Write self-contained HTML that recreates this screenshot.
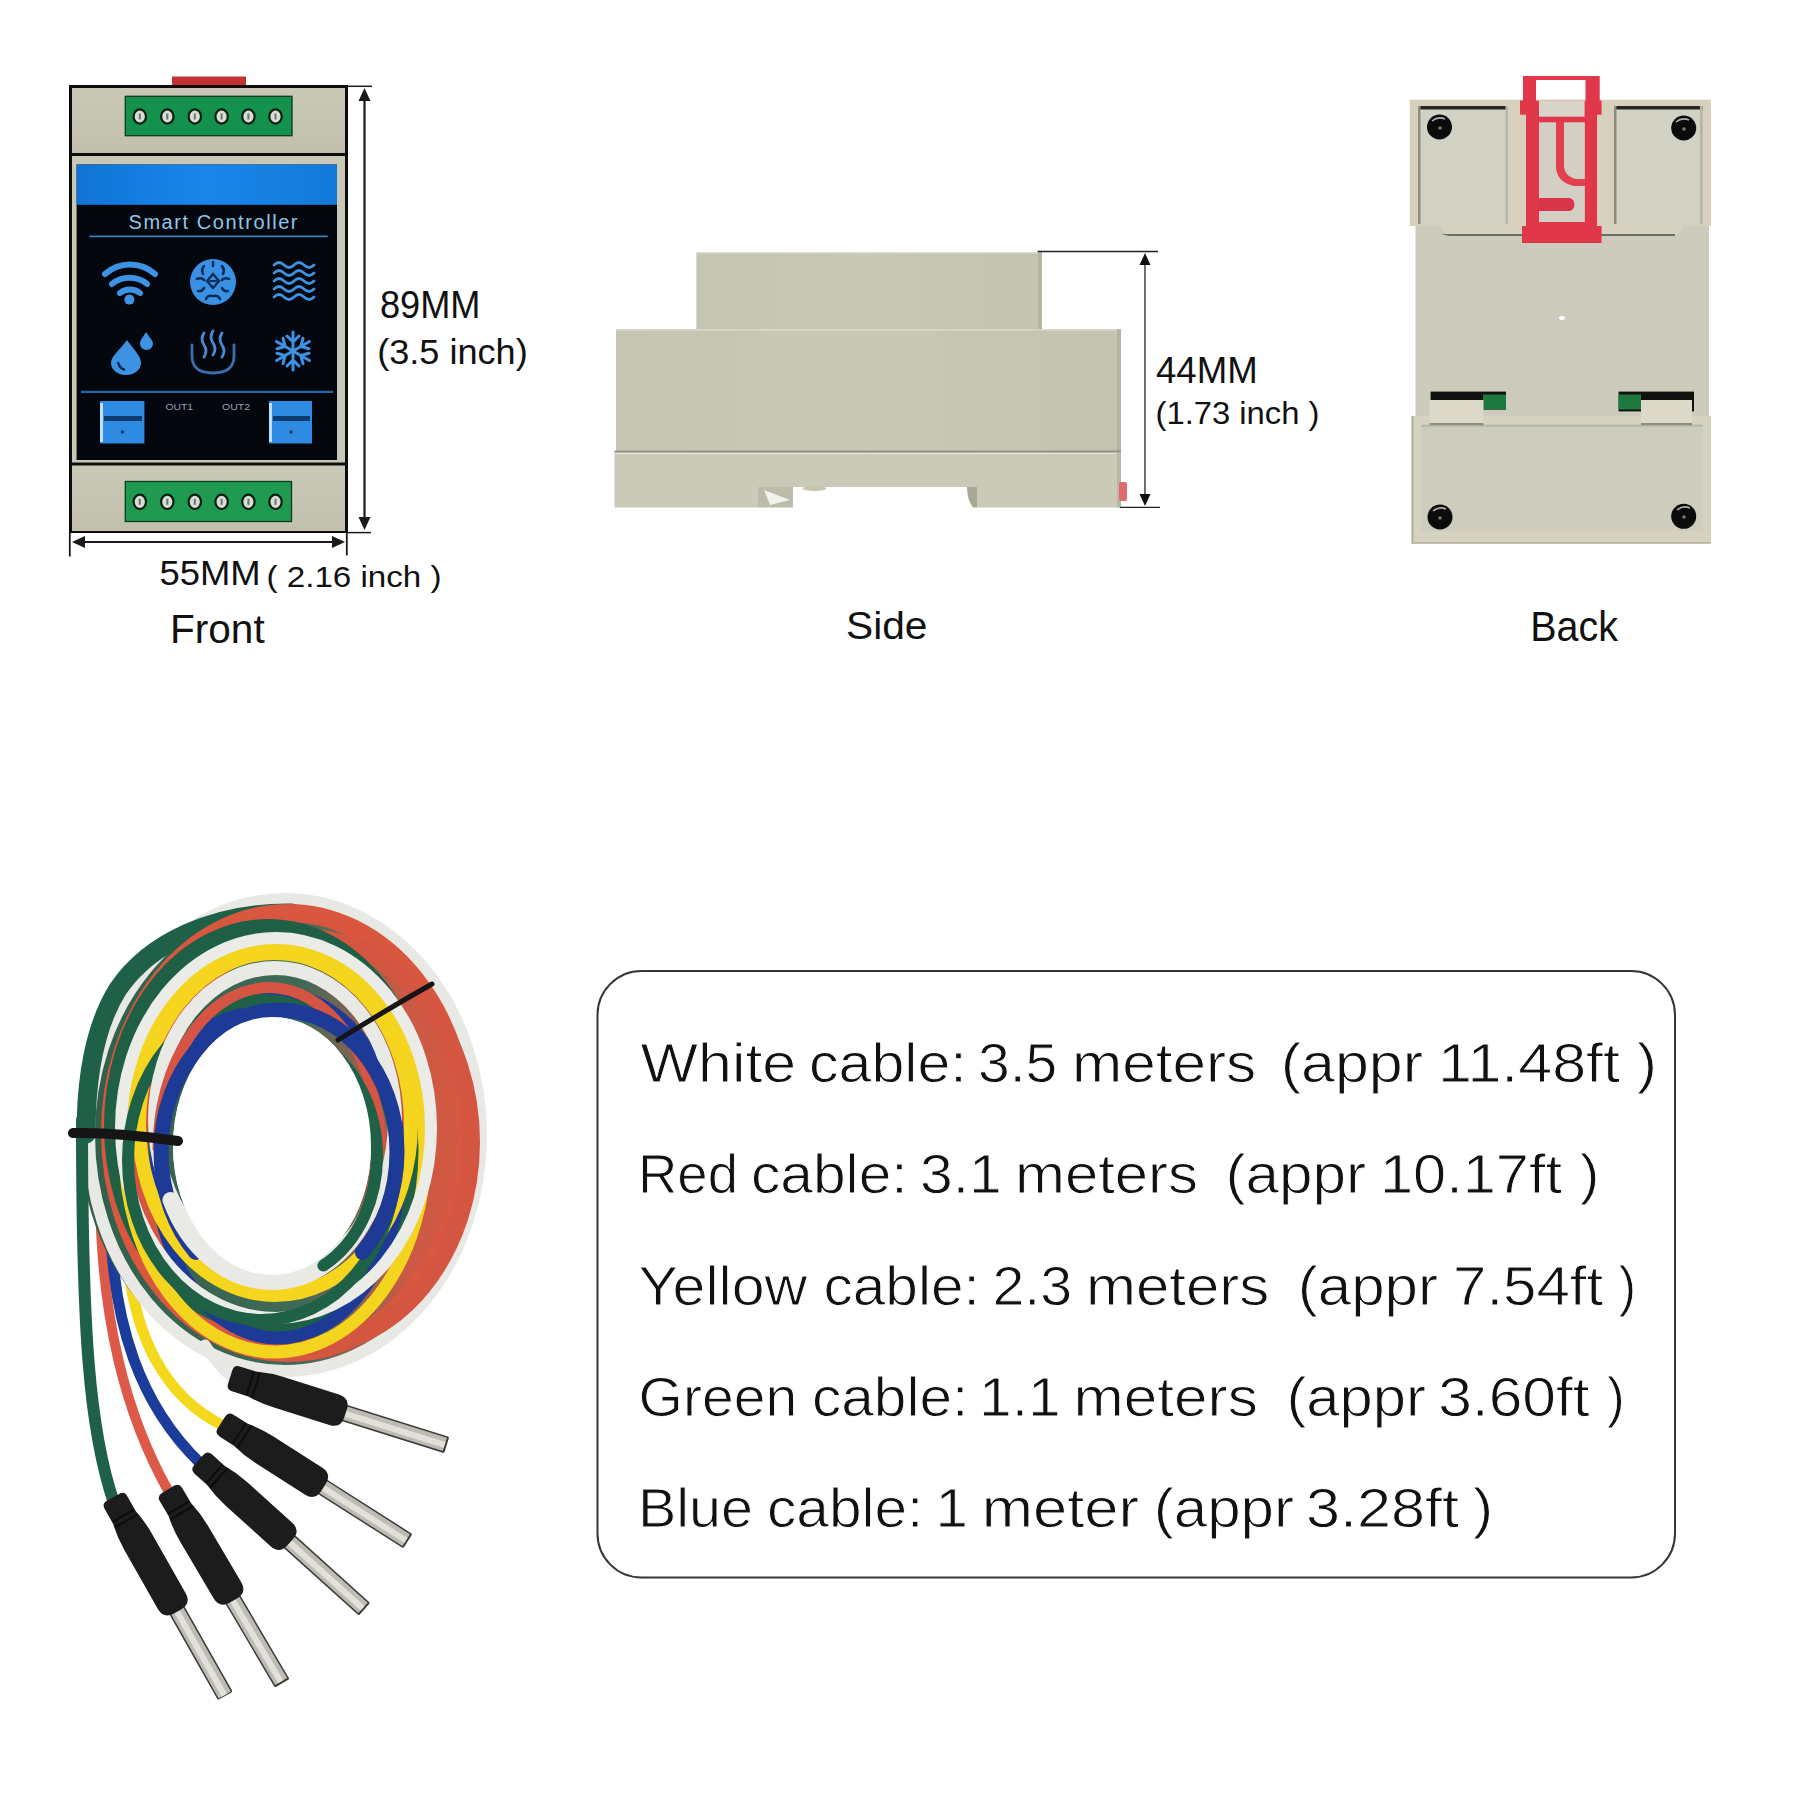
<!DOCTYPE html>
<html>
<head>
<meta charset="utf-8">
<style>
html,body{margin:0;padding:0;background:#fff;width:1800px;height:1800px;overflow:hidden;}
svg{display:block;position:absolute;left:0;top:0;}
text{font-family:"Liberation Sans",sans-serif;}
</style>
</head>
<body>
<svg width="1800" height="1800" viewBox="0 0 1800 1800">
<defs>
  <linearGradient id="beigeV" x1="0" y1="0" x2="0" y2="1">
    <stop offset="0" stop-color="#c9c7b6"/>
    <stop offset="1" stop-color="#c2c0ad"/>
  </linearGradient>
  <linearGradient id="blueBand" x1="0" y1="0" x2="1" y2="0">
    <stop offset="0" stop-color="#0f74d6"/>
    <stop offset="0.5" stop-color="#1a86ea"/>
    <stop offset="1" stop-color="#1279d8"/>
  </linearGradient>
  <linearGradient id="coilBase" x1="80" y1="0" x2="484" y2="0" gradientUnits="userSpaceOnUse">
    <stop offset="0" stop-color="#2f5f4a"/><stop offset="0.55" stop-color="#3f6a58"/><stop offset="0.8" stop-color="#c95a45"/><stop offset="1" stop-color="#d9573f"/>
  </linearGradient>
</defs>
<rect width="1800" height="1800" fill="#fff"/>

<!-- ============ FRONT DEVICE ============ -->
<g id="front">
  <rect x="172" y="76.5" width="74" height="11" fill="#c23232"/>
  <rect x="69" y="85" width="279" height="448" fill="#0d0d0d"/>
  <rect x="72" y="88" width="273" height="65" fill="url(#beigeV)"/>
  <rect x="72" y="156" width="273" height="306.5" fill="#c9c7b5"/>
  <rect x="72" y="465.5" width="273" height="65.5" fill="url(#beigeV)"/>
  <!-- screen -->
  <rect x="76.6" y="164.5" width="260.4" height="295.5" fill="#04070d"/>
  <rect x="76.6" y="164.5" width="260.4" height="40.3" fill="url(#blueBand)"/>
  <!-- screen content -->
  <text x="128.5" y="228.7" font-size="20" fill="#8fc6e6" textLength="169" lengthAdjust="spacing">Smart Controller</text>
  <line x1="89.4" y1="236.4" x2="327.7" y2="236.4" stroke="#3f7fb8" stroke-width="1.8"/>
  <g fill="none" stroke="#3d92e4" stroke-linecap="round">
    <!-- wifi -->
    <path d="M105 274 A38 38 0 0 1 155 274" stroke-width="6"/>
    <path d="M112 284 A28 28 0 0 1 147 284" stroke-width="6"/>
    <path d="M120 293 A16 16 0 0 1 140 293" stroke-width="6"/>
    <!-- waves -->
    <path d="M274 265 q5 -5 10 0 t10 0 t10 0 t10 0" stroke-width="2.6"/>
    <path d="M274 273 q5 -5 10 0 t10 0 t10 0 t10 0" stroke-width="2.6"/>
    <path d="M274 281 q5 -5 10 0 t10 0 t10 0 t10 0" stroke-width="2.6"/>
    <path d="M274 289 q5 -5 10 0 t10 0 t10 0 t10 0" stroke-width="2.6"/>
    <path d="M274 297 q5 -5 10 0 t10 0 t10 0 t10 0" stroke-width="2.6"/>
    <!-- snowflake -->
    <g stroke-width="3" transform="translate(293,351)">
      <path transform="rotate(0)" d="M0 0 V-19 M-6 -15 L0 -9 L6 -15"/><path transform="rotate(60)" d="M0 0 V-19 M-6 -15 L0 -9 L6 -15"/><path transform="rotate(120)" d="M0 0 V-19 M-6 -15 L0 -9 L6 -15"/><path transform="rotate(180)" d="M0 0 V-19 M-6 -15 L0 -9 L6 -15"/><path transform="rotate(240)" d="M0 0 V-19 M-6 -15 L0 -9 L6 -15"/><path transform="rotate(300)" d="M0 0 V-19 M-6 -15 L0 -9 L6 -15"/>
    </g>
    <!-- steam -->
    <path d="M192 345 V356 Q192 373 213 373 Q234 373 234 356 V345" stroke="#3a6ea8" stroke-width="2.8"/>
    <path d="M204 333 q-4 6 0 12 t0 12" stroke="#4a8ad0" stroke-width="2.8"/>
    <path d="M213 331 q-4 6 0 12 t0 12" stroke="#4a8ad0" stroke-width="2.8"/>
    <path d="M222 333 q-4 6 0 12 t0 12" stroke="#4a8ad0" stroke-width="2.8"/>
  </g>
  <circle cx="129.4" cy="299.6" r="5" fill="#3d92e4"/>
  <!-- circle icon -->
  <circle cx="213" cy="282" r="23" fill="#3a90e2"/>
  <g stroke="#0a2c58" stroke-width="2.6" fill="none" stroke-linecap="round">
    <path d="M204 266 q-3 4 -1 8 M222 266 q3 4 1 8 M197 279 q4 -2 7 1 M229 279 q-4 -2 -7 1 M198 291 q4 1 6 -3 M228 291 q-4 1 -6 -3 M206 299 q2 -4 6 -3 M220 299 q-2 -4 -6 -3 M213 262 v4"/>
    <path d="M207 281 l6 7 l6 -7 l-6 -7 z" stroke-width="2.4"/>
    <path d="M210 281 h6" stroke-width="2"/>
  </g>
  <!-- drops -->
  <path d="M127 340 C120 350 111 356 111 363 A15 12 0 0 0 141 363 C141 356 134 350 127 340 Z" fill="#3d92e4"/>
  <path d="M146 332 C143 337 140 340 140 344 A6.5 6 0 0 0 153 344 C153 340 149 337 146 332 Z" fill="#3d92e4"/>
  <path d="M118 362 Q119 368 125 370" stroke="#0a2c58" stroke-width="2.5" fill="none"/>
  <!-- bottom row -->
  <line x1="81" y1="391.8" x2="333" y2="391.8" stroke="#2566a6" stroke-width="2.2"/>
  <rect x="100" y="401" width="44.4" height="42.5" fill="#2f8be2"/>
  <rect x="100" y="403" width="3" height="39" fill="#bfe0f8"/>
  <rect x="104" y="416" width="38" height="5" fill="#0e3a6e"/>
  <circle cx="122.5" cy="432" r="1.8" fill="#0e3a6e"/>
  <rect x="269" y="401" width="43" height="42.5" fill="#2f8be2"/>
  <rect x="269" y="403" width="3" height="39" fill="#bfe0f8"/>
  <rect x="273" y="416" width="37" height="5" fill="#0e3a6e"/>
  <circle cx="291" cy="432" r="1.8" fill="#0e3a6e"/>
  <text x="165.5" y="409.6" font-size="9.5" fill="#93a3b8" textLength="27.5" lengthAdjust="spacingAndGlyphs">OUT1</text>
  <text x="222" y="409.6" font-size="9.5" fill="#93a3b8" textLength="28" lengthAdjust="spacingAndGlyphs">OUT2</text>
  <!-- terminal blocks -->
  <rect x="125.3" y="96.3" width="166.7" height="39.4" fill="#14914c" stroke="#0b3a1c" stroke-width="1.3"/>
  <rect x="125.3" y="481.5" width="166.2" height="40" fill="#1f9a50" stroke="#0b3a1c" stroke-width="1.3"/>
  <g fill="#d9ddd6" stroke="#06200e" stroke-width="2.2">
    <ellipse cx="139.8" cy="116.5" rx="6.2" ry="7.2"/>
    <ellipse cx="167.3" cy="116.5" rx="6.2" ry="7.2"/>
    <ellipse cx="194.8" cy="116.5" rx="6.2" ry="7.2"/>
    <ellipse cx="221.6" cy="116.5" rx="6.2" ry="7.2"/>
    <ellipse cx="248.4" cy="116.5" rx="6.2" ry="7.2"/>
    <ellipse cx="275.5" cy="116.5" rx="6.2" ry="7.2"/>
    <ellipse cx="139.8" cy="501.8" rx="6.2" ry="7.2"/>
    <ellipse cx="167.3" cy="501.8" rx="6.2" ry="7.2"/>
    <ellipse cx="194.8" cy="501.8" rx="6.2" ry="7.2"/>
    <ellipse cx="221.6" cy="501.8" rx="6.2" ry="7.2"/>
    <ellipse cx="248.4" cy="501.8" rx="6.2" ry="7.2"/>
    <ellipse cx="275.5" cy="501.8" rx="6.2" ry="7.2"/>
  </g>
  <g fill="#6d7470">
    <rect x="138.8" y="113.5" width="2" height="6"/>
    <rect x="166.3" y="113.5" width="2" height="6"/>
    <rect x="193.8" y="113.5" width="2" height="6"/>
    <rect x="220.6" y="113.5" width="2" height="6"/>
    <rect x="247.4" y="113.5" width="2" height="6"/>
    <rect x="274.5" y="113.5" width="2" height="6"/>
    <rect x="138.8" y="498.8" width="2" height="6"/>
    <rect x="166.3" y="498.8" width="2" height="6"/>
    <rect x="193.8" y="498.8" width="2" height="6"/>
    <rect x="220.6" y="498.8" width="2" height="6"/>
    <rect x="247.4" y="498.8" width="2" height="6"/>
    <rect x="274.5" y="498.8" width="2" height="6"/>
  </g>
</g>

<!-- dimension lines front -->
<g stroke="#1a1a1a" fill="none">
  <line x1="364.5" y1="92" x2="364.5" y2="526" stroke-width="2.2"/>
  <line x1="347" y1="86.3" x2="372" y2="86.3" stroke-width="1.5"/>
  <line x1="347.5" y1="532.6" x2="371" y2="532.6" stroke-width="1.5"/>
  <line x1="76" y1="542" x2="341" y2="542" stroke-width="2.2"/>
  <line x1="69.8" y1="533" x2="69.8" y2="556.5" stroke-width="1.8"/>
  <line x1="346.8" y1="533" x2="346.8" y2="555.5" stroke-width="1.8"/>
</g>
<g fill="#1a1a1a">
  <polygon points="364.5,88 358.5,101 370.5,101"/>
  <polygon points="364.5,530 358.5,517 370.5,517"/>
  <polygon points="72,542 85,536 85,548"/>
  <polygon points="345,542 332,536 332,548"/>
</g>

<!-- labels -->
<g fill="#111">
  <text x="380" y="317.6" font-size="38" textLength="100.5" lengthAdjust="spacingAndGlyphs">89MM</text>
  <text x="377.2" y="364.3" font-size="34.5" textLength="150.5" lengthAdjust="spacingAndGlyphs">(3.5 inch)</text>
  <text x="159.5" y="584.7" font-size="35.6" textLength="101.2" lengthAdjust="spacingAndGlyphs">55MM</text>
  <text x="266.5" y="587" font-size="30" textLength="175" lengthAdjust="spacingAndGlyphs">( 2.16 inch )</text>
  <text x="170" y="643" font-size="40.5" textLength="94.7" lengthAdjust="spacingAndGlyphs">Front</text>
  <text x="1156" y="382.5" font-size="37.5" textLength="101.7" lengthAdjust="spacingAndGlyphs">44MM</text>
  <text x="1155.5" y="424" font-size="31.5" textLength="164" lengthAdjust="spacingAndGlyphs">(1.73 inch )</text>
  <text x="846" y="638.7" font-size="38.5" textLength="81.5" lengthAdjust="spacingAndGlyphs">Side</text>
  <text x="1530.3" y="641.4" font-size="42" textLength="87.7" lengthAdjust="spacingAndGlyphs">Back</text>
</g>

<!-- ============ SIDE DEVICE ============ -->
<g id="side">
  <defs>
    <linearGradient id="sideBody" x1="0" y1="0" x2="1" y2="0">
      <stop offset="0" stop-color="#c6c5b1"/><stop offset="0.5" stop-color="#c9c8b5"/><stop offset="1" stop-color="#c4c3af"/>
    </linearGradient>
  </defs>
  <rect x="696.4" y="252" width="345.4" height="78" fill="url(#sideBody)"/>
  <rect x="696.4" y="252" width="345.4" height="1.5" fill="#dcdbcd"/>
  <rect x="1038" y="252" width="4" height="78" fill="#b6b5a2"/>
  <rect x="616" y="329.2" width="505" height="121.8" fill="url(#sideBody)"/>
  <rect x="616" y="329.2" width="505" height="1.5" fill="#dad9cb"/>
  <rect x="1117" y="329.2" width="4" height="121.8" fill="#b4b3a0"/>
  <rect x="614.5" y="450.6" width="506.5" height="2.2" fill="#8f8e7e"/>
  <path d="M614.5 452.8 H1121 V507.6 H976.8 V487 H758 V507.6 H614.5 Z" fill="#cbcab8"/>
  <rect x="614.5" y="452.8" width="506.5" height="1.4" fill="#e2e1d4"/>
  <rect x="1117" y="452.8" width="4" height="54.8" fill="#b9b8a6"/>
  <path d="M758 487 H793 V507.6 H758 Z" fill="#bdbcaa"/>
  <path d="M764 490 L790 500 L770 505 Z" fill="#f2f2ee"/>
  <ellipse cx="814.5" cy="488.5" rx="12" ry="2.5" fill="#c9c4ae"/>
  <path d="M967 487 H977 V507.6 H973 Q967 500 967 487 Z" fill="#a9a897"/>
  <rect x="1119" y="482" width="8" height="19" rx="2" fill="#e06a6a"/>
</g>
<g stroke="#222" fill="none" stroke-width="1.3">
  <line x1="1037.6" y1="251.5" x2="1158" y2="251.5"/>
  <line x1="1145" y1="258" x2="1145" y2="501"/>
  <line x1="1120" y1="507.4" x2="1160" y2="507.4"/>
</g>
<g fill="#111">
  <polygon points="1145,253 1139.5,265 1150.5,265"/>
  <polygon points="1145,506 1139.5,494 1150.5,494"/>
</g>

<!-- ============ BACK DEVICE ============ -->
<g id="back">
  <rect x="1415.5" y="226" width="293.5" height="190" fill="#cdccbc"/>
  <rect x="1409.8" y="99.7" width="301.2" height="126.3" fill="#d6d0bd"/>
  <!-- pockets -->
  <rect x="1418" y="106" width="90" height="118" fill="#d1d1c4"/>
  <rect x="1418" y="106" width="90" height="3.5" fill="#262622"/>
  <rect x="1418" y="106" width="2.5" height="118" fill="#8d8c80"/>
  <rect x="1505.5" y="106" width="2.5" height="118" fill="#b7b5a8"/>
  <rect x="1614" y="106" width="88.6" height="118" fill="#d1d1c4"/>
  <rect x="1614" y="106" width="88.6" height="3.5" fill="#262622"/>
  <rect x="1614" y="106" width="2.5" height="118" fill="#8d8c80"/>
  <rect x="1700" y="106" width="2.6" height="118" fill="#b7b5a8"/>
  <!-- ledges -->
  <path d="M1441 224 H1522 V235 H1449 Q1441 232 1441 224 Z" fill="#d7d1bf"/>
  <path d="M1441 234 H1522 V236 H1449 Z" fill="#6d6b62"/>
  <path d="M1600.6 224 H1683 Q1683 232 1675 235 H1600.6 Z" fill="#d7d1bf"/>
  <path d="M1600.6 234 H1675 V236 H1600.6 Z" fill="#6d6b62"/>
  <!-- white hole -->
  <ellipse cx="1562" cy="318" rx="3" ry="2" fill="#fff"/>
  <!-- slots -->
  <rect x="1430.6" y="391.6" width="75.4" height="18" fill="#111"/>
  <rect x="1483" y="394.5" width="23" height="15" fill="#1d7a3e"/>

  <rect x="1618.6" y="391.6" width="75.4" height="19.8" fill="#111"/>
  <rect x="1618.6" y="394.5" width="22.4" height="15" fill="#1d7a3e"/>

  <!-- bottom frame -->
  <rect x="1411.7" y="416" width="299.3" height="127.7" fill="#d6d2bf"/>
  <rect x="1421" y="424.7" width="281.6" height="106.7" fill="#cecdbd"/>
  <rect x="1421" y="424.7" width="281.6" height="2" fill="#b9b7a8"/>
  <!-- redraw tabs over frame -->
  <rect x="1429.7" y="400" width="53.8" height="24" fill="#dcd9c8"/>
  <rect x="1429.7" y="423" width="53.8" height="2.2" fill="#8f8d7e"/>
  <rect x="1641" y="400" width="51" height="24" fill="#dcd9c8"/>
  <rect x="1641" y="423" width="51" height="2.2" fill="#8f8d7e"/>
  <rect x="1411.7" y="416" width="1.6" height="127.7" fill="#a8a694"/>
  <rect x="1411.7" y="542" width="299.3" height="1.7" fill="#b9b7a6"/>
  <!-- red clip -->
  <path fill="#e0384a" fill-rule="evenodd" d="M1523 76 H1599.7 V100.6 H1601.6 V114.8 H1597 V226 H1601.6 V243 H1522 V226 H1526 V114.8 H1520 V100.6 H1523 Z M1536 80 V100.6 H1585.5 V80 Z M1539 117 V122 H1584.6 V117 Z M1539 122 V222 H1584.6 V122 Z"/>
  <rect x="1536" y="99.7" width="49.5" height="0.9" fill="#d6d0bd"/>
  <rect x="1539" y="100.6" width="45.6" height="16.4" fill="#d9d5ca"/>
  <rect x="1539" y="122" width="45.6" height="100" fill="#d3cfc4"/>
  <rect x="1526" y="116.7" width="71" height="5.6" fill="#e0384a"/>
  <path d="M1556 122 H1564 V165 Q1564 176 1576 179 H1585 V186 H1574 Q1556 182 1556 166 Z" fill="#e2404f"/>
  <path d="M1539 198 H1570 A7 7 0 0 1 1570 211 H1539 Z" fill="#d8354a"/>
  <!-- screws -->
  <g fill="#0b0b0b">
    <circle cx="1439.5" cy="127" r="12.5"/><circle cx="1683.7" cy="128" r="12.5"/>
    <circle cx="1440" cy="517" r="12.5"/><circle cx="1683.7" cy="516.3" r="12.5"/>
  </g>
  <g fill="none" stroke="#cfcfcf" stroke-width="1.6" opacity="0.85">
    <path d="M1432 121 Q1438 116 1445 119"/><path d="M1676 122 Q1682 117 1689 120"/>
    <path d="M1433 511 Q1439 506 1446 509"/><path d="M1677 510 Q1683 505 1690 508"/>
  </g>
  <g fill="#777">
    <circle cx="1440" cy="128" r="1.8"/><circle cx="1684" cy="129" r="1.8"/>
    <circle cx="1440" cy="518" r="1.8"/><circle cx="1684" cy="517" r="1.8"/>
</g>
</g>

<!-- ============ CABLES ============ -->
<g id="cables" fill="none" stroke-linecap="round">
  <!-- dangling cable ends -->
  
  <path d="M100 1170 C98 1320 128 1420 170 1494" stroke="#de5a48" stroke-width="10"/>
  <path d="M110 1190 C108 1330 145 1410 201 1464" stroke="#1c3c9c" stroke-width="11"/>
  <path d="M126 1220 C126 1340 170 1400 224 1426" stroke="#f4d81c" stroke-width="11"/>
  <!-- base annulus -->
  <path fill-rule="evenodd" fill="url(#coilBase)" stroke="none" d="M80 1135 A202 236 0 1 0 484 1135 A202 236 0 1 0 80 1135 Z M173 1146 A99 129 0 1 0 371 1146 A99 129 0 1 0 173 1146 Z"/>
  <!-- coil rings -->
  <ellipse cx="285" cy="1135" rx="196" ry="236" stroke="#e8e8e4" stroke-width="12"/>
  <path d="M292 913 C215 912 150 942 118 989 C96 1024 86 1074 86 1134" stroke="#1f6048" stroke-width="19" stroke-linecap="round"/>
  <path d="M82 1120 C82 1330 89 1430 114 1503" stroke="#1f6048" stroke-width="12"/>
  <ellipse cx="288" cy="1133" rx="178" ry="220" stroke="#d9573f" stroke-width="18"/>
  <ellipse cx="305" cy="1142" rx="166" ry="204" stroke="#d45640" stroke-width="18"/>
  <ellipse cx="268" cy="1126" rx="156" ry="199" stroke="#1f5f45" stroke-width="16"/>
  <ellipse cx="275" cy="1150" rx="150" ry="202" stroke="#f3d41e" stroke-width="13"/>
  <ellipse cx="278" cy="1166" rx="122" ry="172" stroke="#1d3a96" stroke-width="13"/>
  <ellipse cx="276" cy="1128" rx="155" ry="190" stroke="#ebebe8" stroke-width="12"/>
  <ellipse cx="275" cy="1124" rx="136" ry="171" stroke="#f5d51e" stroke-width="14"/>
  <ellipse cx="262" cy="1160" rx="134" ry="160" stroke="#1f6147" stroke-width="12"/>
  <ellipse cx="275" cy="1120" rx="120" ry="152" stroke="#e9e9e6" stroke-width="14"/>
  <path d="M158 1150 A108 158 0 0 1 380 1150" stroke="#d65443" stroke-width="11" stroke-linecap="butt"/>
  <path d="M195.6 1252.4 A118 142 0 1 1 362.4 1252.4" stroke="#1d3a96" stroke-width="15"/>
  <path d="M373.5 1200.0 A112 142 0 0 1 170.5 1200.0" stroke="#e9e9e6" stroke-width="16"/>
  <path d="M310.5 1039.5 A101 124 0 0 1 323.4 1265.5" stroke="#1e6146" stroke-width="12"/>
  <ellipse cx="272" cy="1146" rx="99" ry="129" fill="#fff" stroke="none"/>
  <!-- white cable to connector -->
  <path d="M205 1345 C218 1365 228 1376 240 1382" stroke="#e8e8e4" stroke-width="11"/>
  <!-- ties -->
  <path d="M338 1040 C370 1020 400 1002 432 984" stroke="#151515" stroke-width="5"/>
  <path d="M73 1133 C110 1132 150 1137 178 1141" stroke="#151515" stroke-width="10"/>
</g>
<!-- pins -->
<g id="pins">
  <g transform="translate(114.5,1500.0) rotate(-29.5)">
    <rect x="-8.5" y="124" width="17" height="101" rx="1.5" fill="#3a3a38"/>
    <rect x="-7" y="124" width="14" height="100" fill="#bebbb3"/>
    <rect x="-3.5" y="124" width="6" height="100" fill="#e2e0da"/>
    <path d="M-13 3 Q-13 -3 -7 -3 H7 Q13 -3 13 3 V20 Q16 34 16 48 V116 Q16 128 4 128 H-4 Q-16 128 -16 116 V48 Q-16 34 -13 20 Z" fill="#1c1c1c"/>
    <path d="M-12 18 H12 M-13 24 H13" stroke="#0c0c0c" stroke-width="2" fill="none"/>
  </g>
  <g transform="translate(169.5,1492.0) rotate(-30.5)">
    <rect x="-8.5" y="122" width="17" height="100" rx="1.5" fill="#3a3a38"/>
    <rect x="-7" y="122" width="14" height="98" fill="#bebbb3"/>
    <rect x="-3.5" y="122" width="6" height="98" fill="#e2e0da"/>
    <path d="M-13 3 Q-13 -3 -7 -3 H7 Q13 -3 13 3 V20 Q16 34 16 48 V114 Q16 126 4 126 H-4 Q-16 126 -16 114 V48 Q-16 34 -13 20 Z" fill="#1c1c1c"/>
    <path d="M-12 18 H12 M-13 24 H13" stroke="#0c0c0c" stroke-width="2" fill="none"/>
  </g>
  <g transform="translate(201.0,1462.0) rotate(-48.0)">
    <rect x="-8.5" y="116" width="17" height="104" rx="1.5" fill="#3a3a38"/>
    <rect x="-7" y="116" width="14" height="102" fill="#bebbb3"/>
    <rect x="-3.5" y="116" width="6" height="102" fill="#e2e0da"/>
    <path d="M-13 3 Q-13 -3 -7 -3 H7 Q13 -3 13 3 V20 Q16 34 16 48 V108 Q16 120 4 120 H-4 Q-16 120 -16 108 V48 Q-16 34 -13 20 Z" fill="#1c1c1c"/>
    <path d="M-12 18 H12 M-13 24 H13" stroke="#0c0c0c" stroke-width="2" fill="none"/>
  </g>
  <g transform="translate(224.0,1424.0) rotate(-57.5)">
    <rect x="-8.5" y="114" width="17" height="104" rx="1.5" fill="#3a3a38"/>
    <rect x="-7" y="114" width="14" height="102" fill="#bebbb3"/>
    <rect x="-3.5" y="114" width="6" height="102" fill="#e2e0da"/>
    <path d="M-13 3 Q-13 -3 -7 -3 H7 Q13 -3 13 3 V20 Q16 34 16 48 V106 Q16 118 4 118 H-4 Q-16 118 -16 106 V48 Q-16 34 -13 20 Z" fill="#1c1c1c"/>
    <path d="M-12 18 H12 M-13 24 H13" stroke="#0c0c0c" stroke-width="2" fill="none"/>
  </g>
  <g transform="translate(233.0,1378.0) rotate(-72.6)">
    <rect x="-8.5" y="114" width="17" height="110" rx="1.5" fill="#3a3a38"/>
    <rect x="-7" y="114" width="14" height="108" fill="#bebbb3"/>
    <rect x="-3.5" y="114" width="6" height="108" fill="#e2e0da"/>
    <path d="M-13 3 Q-13 -3 -7 -3 H7 Q13 -3 13 3 V20 Q16 34 16 48 V106 Q16 118 4 118 H-4 Q-16 118 -16 106 V48 Q-16 34 -13 20 Z" fill="#1c1c1c"/>
    <path d="M-12 18 H12 M-13 24 H13" stroke="#0c0c0c" stroke-width="2" fill="none"/>
  </g>
</g>

<!-- ============ TEXT BOX ============ -->
<rect x="597.5" y="971" width="1077.5" height="606.5" rx="44" ry="44" fill="none" stroke="#3a3434" stroke-width="2"/>
<!-- WORDS START -->
<g fill="#111" font-size="55" stroke="#fff" stroke-width="0.9">
  <text x="640.6" y="1081.5" textLength="155.6" lengthAdjust="spacingAndGlyphs">White</text>
  <text x="809.0" y="1081.5" textLength="157.8" lengthAdjust="spacingAndGlyphs">cable:</text>
  <text x="978.0" y="1081.5" textLength="79.2" lengthAdjust="spacingAndGlyphs">3.5</text>
  <text x="1072.0" y="1081.5" textLength="184.2" lengthAdjust="spacingAndGlyphs">meters</text>
  <text x="1280.8" y="1081.5" textLength="142.2" lengthAdjust="spacingAndGlyphs">(appr</text>
  <text x="1438.0" y="1081.5" textLength="182.0" lengthAdjust="spacingAndGlyphs">11.48ft</text>
  <text x="1637.0" y="1081.5" textLength="20.0" lengthAdjust="spacingAndGlyphs">)</text>
  <text x="638.0" y="1192.5" textLength="100.0" lengthAdjust="spacingAndGlyphs">Red</text>
  <text x="751.0" y="1192.5" textLength="156.6" lengthAdjust="spacingAndGlyphs">cable:</text>
  <text x="920.0" y="1192.5" textLength="81.8" lengthAdjust="spacingAndGlyphs">3.1</text>
  <text x="1015.0" y="1192.5" textLength="183.0" lengthAdjust="spacingAndGlyphs">meters</text>
  <text x="1225.4" y="1192.5" textLength="140.6" lengthAdjust="spacingAndGlyphs">(appr</text>
  <text x="1380.0" y="1192.5" textLength="182.0" lengthAdjust="spacingAndGlyphs">10.17ft</text>
  <text x="1580.0" y="1192.5" textLength="19.4" lengthAdjust="spacingAndGlyphs">)</text>
  <text x="638.6" y="1304.5" textLength="168.6" lengthAdjust="spacingAndGlyphs">Yellow</text>
  <text x="823.4" y="1304.5" textLength="156.4" lengthAdjust="spacingAndGlyphs">cable:</text>
  <text x="992.4" y="1304.5" textLength="79.6" lengthAdjust="spacingAndGlyphs">2.3</text>
  <text x="1086.0" y="1304.5" textLength="183.2" lengthAdjust="spacingAndGlyphs">meters</text>
  <text x="1297.8" y="1304.5" textLength="140.2" lengthAdjust="spacingAndGlyphs">(appr</text>
  <text x="1453.0" y="1304.5" textLength="150.2" lengthAdjust="spacingAndGlyphs">7.54ft</text>
  <text x="1618.8" y="1304.5" textLength="17.4" lengthAdjust="spacingAndGlyphs">)</text>
  <text x="638.6" y="1415.5" textLength="158.6" lengthAdjust="spacingAndGlyphs">Green</text>
  <text x="812.0" y="1415.5" textLength="156.2" lengthAdjust="spacingAndGlyphs">cable:</text>
  <text x="979.0" y="1415.5" textLength="81.6" lengthAdjust="spacingAndGlyphs">1.1</text>
  <text x="1073.6" y="1415.5" textLength="184.2" lengthAdjust="spacingAndGlyphs">meters</text>
  <text x="1286.4" y="1415.5" textLength="139.4" lengthAdjust="spacingAndGlyphs">(appr</text>
  <text x="1438.2" y="1415.5" textLength="151.4" lengthAdjust="spacingAndGlyphs">3.60ft</text>
  <text x="1607.0" y="1415.5" textLength="17.8" lengthAdjust="spacingAndGlyphs">)</text>
  <text x="638.0" y="1526.7" textLength="115.0" lengthAdjust="spacingAndGlyphs">Blue</text>
  <text x="767.0" y="1526.7" textLength="156.4" lengthAdjust="spacingAndGlyphs">cable:</text>
  <text x="935.6" y="1526.7" textLength="32.4" lengthAdjust="spacingAndGlyphs">1</text>
  <text x="981.8" y="1526.7" textLength="157.2" lengthAdjust="spacingAndGlyphs">meter</text>
  <text x="1153.8" y="1526.7" textLength="140.2" lengthAdjust="spacingAndGlyphs">(appr</text>
  <text x="1306.0" y="1526.7" textLength="153.0" lengthAdjust="spacingAndGlyphs">3.28ft</text>
  <text x="1473.0" y="1526.7" textLength="20.2" lengthAdjust="spacingAndGlyphs">)</text>
</g>
<!-- WORDS END -->

</svg>
</body>
</html>
